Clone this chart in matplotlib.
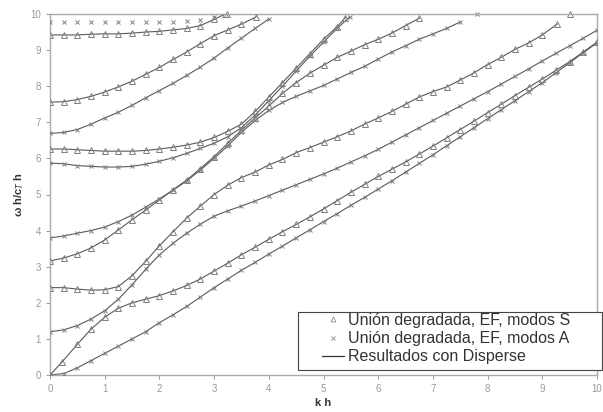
import numpy as np
import matplotlib.pyplot as plt
from matplotlib.patches import Rectangle

plt.rcParams['font.family'] = ['Liberation Sans', 'DejaVu Sans']

# --- modos simetricos (S), EF + Disperse ---
s0_kh = [0, 0.22, 0.5, 0.75, 1.0, 1.25, 1.5, 1.75, 2.0, 2.25, 2.5, 2.75, 3.0, 3.25, 3.5, 3.75,
         4.0, 4.25, 4.5, 4.75, 5.0, 5.25, 5.5, 5.75, 6.0, 6.25, 6.5, 6.75, 7.0, 7.25, 7.5, 7.75,
         8.0, 8.25, 8.5, 8.75, 9.0, 9.25, 9.5, 9.75, 10.0]
s0_w = [0, 0.36, 0.85, 1.27, 1.6, 1.85, 2.0, 2.1, 2.2, 2.33, 2.48, 2.66, 2.88, 3.1, 3.33, 3.54,
        3.76, 3.97, 4.17, 4.38, 4.6, 4.83, 5.06, 5.28, 5.5, 5.7, 5.9, 6.12, 6.34, 6.57, 6.8, 7.03,
        7.27, 7.5, 7.74, 7.97, 8.2, 8.44, 8.68, 8.95, 9.22]

s1_kh = [0, 0.25, 0.5, 0.75, 1.0, 1.25, 1.5, 1.75, 2.0, 2.25, 2.5, 2.75, 3.0, 3.25, 3.5, 3.75,
         4.0, 4.25, 4.5, 4.75, 5.0, 5.25, 5.5, 5.75, 6.0, 6.25, 6.5, 6.75, 7.0, 7.25, 7.5, 7.75,
         8.0, 8.25, 8.5, 8.75, 9.0, 9.27]
s1_w = [2.42, 2.42, 2.38, 2.35, 2.36, 2.45, 2.75, 3.15, 3.58, 3.97, 4.35, 4.68, 5.0, 5.26, 5.47, 5.62,
        5.82, 5.97, 6.16, 6.3, 6.45, 6.6, 6.76, 6.95, 7.12, 7.3, 7.5, 7.7, 7.85, 7.98, 8.17, 8.37,
        8.6, 8.8, 9.02, 9.2, 9.42, 9.72]

s2_kh = [0, 0.25, 0.5, 0.75, 1.0, 1.25, 1.5, 1.75, 2.0, 2.25, 2.5, 2.75, 3.0, 3.25, 3.5, 3.75,
         4.0, 4.25, 4.5, 4.75, 5.0, 5.25, 5.5, 5.75, 6.0, 6.25, 6.5, 6.75]
s2_w = [3.16, 3.24, 3.36, 3.52, 3.74, 4.02, 4.3, 4.57, 4.85, 5.13, 5.4, 5.72, 6.05, 6.42, 6.78, 7.12,
        7.45, 7.8, 8.1, 8.36, 8.58, 8.8, 8.97, 9.15, 9.3, 9.47, 9.68, 9.88]

s3_kh = [0, 0.25, 0.5, 0.75, 1.0, 1.25, 1.5, 1.75, 2.0, 2.25, 2.5, 2.75, 3.0, 3.25, 3.5, 3.75,
         4.0, 4.25, 4.5, 4.75, 5.0, 5.25, 5.4]
s3_w = [6.26, 6.26, 6.24, 6.22, 6.2, 6.2, 6.2, 6.22, 6.26, 6.31, 6.37, 6.45, 6.58, 6.75, 6.95, 7.3,
        7.7, 8.1, 8.5, 8.9, 9.3, 9.65, 9.9]

s4_kh = [0, 0.25, 0.5, 0.75, 1.0, 1.25, 1.5, 1.75, 2.0, 2.25, 2.5, 2.75, 3.0, 3.25, 3.5, 3.77]
s4_w = [7.56, 7.57, 7.63, 7.72, 7.84, 7.98, 8.14, 8.33, 8.52, 8.74, 8.95, 9.18, 9.4, 9.56, 9.72, 9.92]

s5_kh = [0, 0.25, 0.5, 0.75, 1.0, 1.25, 1.5, 1.75, 2.0, 2.25, 2.5, 2.75, 3.0, 3.2]
s5_w = [9.42, 9.42, 9.42, 9.44, 9.45, 9.45, 9.47, 9.5, 9.52, 9.56, 9.6, 9.68, 9.85, 10.0]

# --- modos antisimetricos (A) ---
a0_kh = [0, 0.25, 0.5, 0.75, 1.0, 1.25, 1.5, 1.75, 2.0, 2.25, 2.5, 2.75, 3.0, 3.25, 3.5, 3.75,
         4.0, 4.25, 4.5, 4.75, 5.0, 5.25, 5.5, 5.75, 6.0, 6.25, 6.5, 6.75, 7.0, 7.25, 7.5, 7.75,
         8.0, 8.25, 8.5, 8.75, 9.0, 9.25, 9.5, 9.75, 10.0]
a0_w = [0, 0.04, 0.2, 0.4, 0.6, 0.8, 1.0, 1.2, 1.45, 1.67, 1.9, 2.16, 2.42, 2.66, 2.9, 3.12,
        3.35, 3.57, 3.8, 4.02, 4.25, 4.47, 4.7, 4.92, 5.15, 5.38, 5.62, 5.86, 6.1, 6.35, 6.6, 6.85,
        7.1, 7.35, 7.6, 7.85, 8.1, 8.37, 8.65, 8.93, 9.2]

a1_kh = [0, 0.25, 0.5, 0.75, 1.0, 1.25, 1.5, 1.75, 2.0, 2.25, 2.5, 2.75, 3.0, 3.25, 3.5, 3.75,
         4.0, 4.25, 4.5, 4.75, 5.0, 5.25, 5.5, 5.75, 6.0, 6.25, 6.5, 6.75, 7.0, 7.25, 7.5, 7.75,
         8.0, 8.25, 8.5, 8.75, 9.0, 9.25, 9.5, 9.75, 10.0]
a1_w = [1.2, 1.25, 1.37, 1.55, 1.78, 2.1, 2.5, 2.93, 3.33, 3.65, 3.93, 4.18, 4.4, 4.55, 4.68, 4.82,
        4.97, 5.12, 5.27, 5.42, 5.57, 5.73, 5.9, 6.07, 6.25, 6.45, 6.65, 6.85, 7.05, 7.25, 7.45, 7.65,
        7.85, 8.06, 8.27, 8.48, 8.7, 8.91, 9.12, 9.33, 9.55]

a2_kh = [0, 0.25, 0.5, 0.75, 1.0, 1.25, 1.5, 1.75, 2.0, 2.25, 2.5, 2.75, 3.0, 3.25, 3.5, 3.75,
         4.0, 4.25, 4.5, 4.75, 5.0, 5.25, 5.5, 5.75, 6.0, 6.25, 6.5, 6.75, 7.0, 7.25, 7.5]
a2_w = [3.8, 3.85, 3.93, 4.0, 4.1, 4.25, 4.43, 4.65, 4.88, 5.12, 5.38, 5.68, 6.0, 6.35, 6.72, 7.05,
        7.33, 7.55, 7.72, 7.87, 8.02, 8.2, 8.38, 8.55, 8.75, 8.95, 9.12, 9.3, 9.45, 9.6, 9.78]

a3_kh = [0, 0.25, 0.5, 0.75, 1.0, 1.25, 1.5, 1.75, 2.0, 2.25, 2.5, 2.75, 3.0, 3.25, 3.5, 3.75,
         4.0, 4.25, 4.5, 4.75, 5.0, 5.25, 5.48]
a3_w = [5.87, 5.85, 5.8, 5.78, 5.76, 5.76, 5.78, 5.84, 5.92, 6.02, 6.14, 6.28, 6.42, 6.6, 6.85, 7.2,
        7.6, 8.0, 8.42, 8.83, 9.22, 9.6, 9.92]

a4_kh = [0, 0.25, 0.5, 0.75, 1.0, 1.25, 1.5, 1.75, 2.0, 2.25, 2.5, 2.75, 3.0, 3.25, 3.5, 3.75, 4.0]
a4_w = [6.69, 6.72, 6.8, 6.95, 7.12, 7.28, 7.47, 7.68, 7.88, 8.08, 8.3, 8.53, 8.78, 9.06, 9.33, 9.6, 9.86]

a5_kh = [0, 0.25, 0.5, 0.75, 1.0, 1.25, 1.5, 1.75, 2.0, 2.25, 2.5, 2.75, 3.0]
a5_w = [9.77, 9.77, 9.77, 9.77, 9.77, 9.77, 9.77, 9.77, 9.79, 9.79, 9.8, 9.83, 9.92]

# puntos EF sueltos cerca del borde superior
extra_s_kh = [3.24, 9.5]
extra_s_w = [10.0, 10.0]
extra_a_kh = [7.8]
extra_a_w = [10.0]

legend_labels = ['Unión degradada, EF, modos S', 'Unión degradada, EF, modos A',
                 'Resultados con Disperse']

s_modes = [(s0_kh, s0_w), (s1_kh, s1_w), (s2_kh, s2_w), (s3_kh, s3_w), (s4_kh, s4_w), (s5_kh, s5_w)]
a_modes = [(a0_kh, a0_w), (a1_kh, a1_w), (a2_kh, a2_w), (a3_kh, a3_w), (a4_kh, a4_w)]

line_c = '#5a5a5a'
mark_c = '#808080'

fig = plt.figure(figsize=(6.03, 4.12), dpi=100)
ax = fig.add_axes([50 / 603, 37 / 412, 547 / 603, 361 / 412])

for kh, w in s_modes + a_modes:
    ax.plot(kh, w, '-', color=line_c, lw=0.8, zorder=2)
for kh, w in s_modes:
    ax.plot(kh, w, '^', ms=4.5, mfc='none', mec=mark_c, mew=0.7, ls='none', zorder=3)
for kh, w in a_modes + [(a5_kh, a5_w)]:
    ax.plot(kh, w, 'x', ms=3.5, color=mark_c, mew=0.7, ls='none', zorder=3)
ax.plot(extra_s_kh, extra_s_w, '^', ms=4.5, mfc='none', mec=mark_c, mew=0.7, ls='none', clip_on=False)
ax.plot(extra_a_kh, extra_a_w, 'x', ms=3.5, color=mark_c, mew=0.7, ls='none', clip_on=False)

ax.set_xlim(0, 10)
ax.set_ylim(0, 10)
ax.set_xticks(range(0, 11))
ax.set_yticks(range(0, 11))
ax.tick_params(labelsize=7, colors='#999999', length=3, width=0.7)
for sp in ax.spines.values():
    sp.set_color('#aaaaaa')
    sp.set_linewidth(1.0)
ax.set_xlabel('k h', fontsize=8, fontweight='bold', color='#333333', labelpad=3)
ax.set_ylabel('ω h/c$_T$ h', fontsize=8, fontweight='bold', color='#333333', labelpad=3)

# marco de la leyenda
box = Rectangle((298 / 603, 42 / 412), 304 / 603, 58 / 412, transform=fig.transFigure,
                facecolor='white', edgecolor='#444444', lw=0.8, zorder=4)
fig.patches.append(box)

h_s, = ax.plot([], [], '^', ms=3.5, mfc='none', mec='#999999', mew=0.7, ls='none')
h_a, = ax.plot([], [], 'x', ms=3, color='#999999', mew=0.7, ls='none')
h_l, = ax.plot([], [], '-', color='#333333', lw=0.9)
leg = fig.legend([h_s, h_a, h_l], legend_labels,
                 loc='upper left', bbox_to_anchor=(322 / 603, (412 - 313) / 412),
                 fontsize=11.5, frameon=False, handlelength=1.4, handletextpad=0.25,
                 borderpad=0, labelspacing=0.2, borderaxespad=0)
leg.set_zorder(5)
for t in leg.get_texts():
    t.set_color('#333333')

fig.savefig('out.png', dpi=100)
